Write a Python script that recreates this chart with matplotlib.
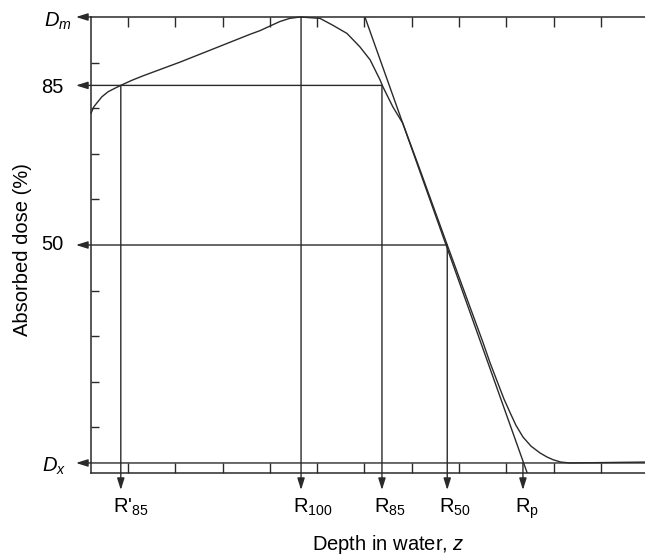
"""
Electron beam depth dose curve with the range parameters
"""
import matplotlib
matplotlib.use('Agg')
import matplotlib.pyplot as plt

plt.rcParams['font.family'] = ['Liberation Sans', 'DejaVu Sans']
plt.rcParams['mathtext.fontset'] = 'custom'
plt.rcParams['mathtext.rm'] = 'Liberation Sans'
plt.rcParams['mathtext.it'] = 'Liberation Sans:italic'

# measured profile (depth in tick units, dose in %)
depth = [0.22, 0.28, 0.34, 0.45, 0.58, 0.73, 0.87, 1.08, 1.32, 2.10, 2.95,
         3.58, 3.79, 4.00, 4.21, 4.42, 4.64, 5.06, 5.33, 5.63, 5.90, 6.12,
         6.33, 6.39, 6.60, 6.81, 7.17, 7.75, 8.51, 8.65, 8.82, 8.95, 9.08,
         9.20, 9.35, 9.52, 9.71, 9.86, 9.99, 10.15, 10.34, 11.93]
dose = [78.9, 80.3, 81.1, 82.5, 83.6, 84.4, 85.1, 86.1, 87.1, 90.1, 93.6,
        96.2, 97.0, 98.0, 99.0, 99.7, 100.0, 99.7, 98.2, 96.4, 93.5, 90.6,
        86.2, 84.7, 80.3, 76.7, 66.6, 50.0, 28.5, 24.3, 19.7, 16.2, 13.2,
        10.5, 7.9, 5.9, 4.4, 3.5, 2.9, 2.4, 2.2, 2.4]

# tangent through the 50 % point
tangent_depth = [6.01, 9.44]
tangent_dose = [100.0, 0.0]

# dose levels marked on the vertical axis
dm_level, d85_level, d50_level, dx_level = 100.0, 85.0, 50.0, 2.2

# range parameters
r85_prime, r100, r85, r50, rp = 0.85, 4.66, 6.37, 7.75, 9.35

x_min, x_max = 0.22, 11.93
x_ticks = list(range(1, 12))
y_ticks = [10, 20, 30, 40, 60, 70, 80, 90]

c = '#2a2a2a'
lw = 1.0
fs = 14.5

fig = plt.figure(figsize=(6.45, 5.58), dpi=100)
W, H = 645, 558
ax = fig.add_axes([91 / W, (H - 473) / H, (W - 91) / W, (473 - 17) / H])
ax.set_xlim(x_min, x_max)
ax.set_ylim(0, 100)

for side in ['left', 'top', 'bottom']:
    ax.spines[side].set_color(c)
    ax.spines[side].set_linewidth(1.1)
ax.spines['right'].set_visible(False)

ax.set_xticks(x_ticks)
ax.set_yticks(y_ticks)
ax.tick_params(axis='x', which='both', direction='in', top=True, bottom=True,
               length=7, width=1.0, color=c, labelbottom=False, labeltop=False)
ax.tick_params(axis='y', direction='in', left=True, right=False,
               length=6, width=1.0, color=c, labelleft=False)

# curve and tangent
ax.plot(depth, dose, color=c, lw=lw, clip_on=False)
ax.plot(tangent_depth, tangent_dose, color=c, lw=lw)

arrow = dict(arrowstyle='-|>,head_length=0.7,head_width=0.22', color=c,
             lw=lw, shrinkA=0, shrinkB=0, mutation_scale=10)
left_tip = -15 / (W - 91)
down_tip = -17 / (473 - 17)

# horizontal lines ending in left arrows
for level, x_end in [(dm_level, x_min), (d85_level, r85), (d50_level, r50), (dx_level, x_max)]:
    ax.annotate('', xy=(left_tip, level), xycoords=('axes fraction', 'data'),
                xytext=(x_end, level), textcoords='data',
                arrowprops=arrow, annotation_clip=False)

# vertical lines ending in down arrows
for x_pos, y_start in [(r85_prime, d85_level), (r100, dm_level), (r85, d85_level),
                       (r50, d50_level), (rp, dx_level)]:
    ax.annotate('', xy=(x_pos, down_tip), xycoords=('data', 'axes fraction'),
                xytext=(x_pos, y_start), textcoords='data',
                arrowprops=arrow, annotation_clip=False)

# level labels
for text, level, dx, dy in [(r'$D_m$', dm_level, -19, -4), ('85', d85_level, -28, -2),
                            ('50', d50_level, -28, 0), (r'$D_x$', dx_level, -25, -3)]:
    ax.annotate(text, xy=(0, level), xycoords=('axes fraction', 'data'),
                xytext=(dx, dy), textcoords='offset pixels',
                ha='right', va='center', fontsize=fs, annotation_clip=False)

# range labels
for text, x_pos in [(r"R'$\mathregular{_{85}}$", r85_prime), (r'R$\mathregular{_{100}}$', r100),
                    (r'R$\mathregular{_{85}}$', r85), (r'R$\mathregular{_{50}}$', r50),
                    (r'R$\mathregular{_p}$', rp)]:
    ax.annotate(text, xy=(x_pos, 0), xycoords='data',
                xytext=(-8, -40), textcoords='offset pixels',
                ha='left', va='baseline', fontsize=fs, annotation_clip=False)

fig.text(388 / W, 1 - 545 / H, r'Depth in water, $z$', ha='center', va='center', fontsize=fs)
fig.text(23 / W, 1 - 250 / H, 'Absorbed dose (%)', ha='center', va='center',
         rotation=90, fontsize=fs)

fig.savefig('out.png', dpi=100)
